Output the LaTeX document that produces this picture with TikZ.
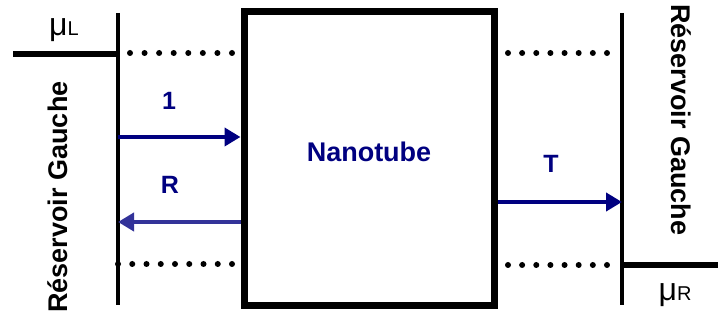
\documentclass[tikz,border=0pt]{standalone}
\usepackage{fontspec}
\setmainfont{Liberation Sans}
\usetikzlibrary{arrows.meta}
\definecolor{navy}{RGB}{0, 0, 128}
\definecolor{refl}{RGB}{51, 51, 153}

\begin{document}
\begin{tikzpicture}[
  x=1pt, y=-1pt,
  wall/.style={line width=3.2pt},
  level/.style={line width=5.5pt},
  dots/.style={line width=6pt, line cap=round, dash pattern=on 0pt off #1},
  flux/.style={line width=4.5pt, draw=navy, -{Triangle[length=16pt, width=18pt]}},
  lbl/.style={text=navy, font=\fontsize{25}{30}\selectfont\bfseries},
  side/.style={font=\fontsize{27}{32}\selectfont\bfseries, inner sep=0pt},
  mu/.style={font=\fontsize{32}{36}\selectfont, inner sep=0pt},
]
\useasboundingbox (0,0) rectangle (718,320);

% Nanotube (box)
\node[draw, line width=7pt, minimum width=250pt, minimum height=294pt,
      inner sep=0pt] (tube) at (369,159) {};
\node[text=navy, font=\fontsize{27}{32}\selectfont\bfseries] (name) at (369,152) {Nanotube};

% Reservoirs (walls and levels)
\coordinate (lt) at (118,13);
\coordinate (lb) at (118,305);
\coordinate (rt) at (622,13);
\coordinate (rb) at (622,305);
\draw[wall] (lt) -- (lb);
\draw[wall] (rt) -- (rb);
\coordinate (ll) at (13,54);
\coordinate (rr) at (718,265);
\draw[level] (ll) -- (ll -| lt);
\draw[level] (rr -| rt) -- (rr);

% Dotted lines
\draw[dots=14.57pt] (130,53) -- (232.5,53);
\draw[dots=14.25pt] (118,264) -- (232.5,264);
\draw[dots=14.14pt] (508,53) -- (607.5,53);
\draw[dots=14.14pt] (508,265) -- (607.5,265);

% Labels of the reservoirs
\node[side, rotate=90]  (resl) at (58,197) {Réservoir Gauche};
\node[side, rotate=-90] (resr) at (681,120) {Réservoir Gauche};
\node[mu] (mul) at (64,30) {μ{\fontsize{20}{22}\selectfont L}};
\node[mu] (mur) at (675,295) {μ{\fontsize{20}{22}\selectfont R}};

% Fluxes
\coordinate (in)  at (118,137);
\coordinate (out) at (118,222);
\coordinate (tr)  at (622,202);
\draw[flux] (in) -- (tube.west |- in);
\draw[flux, draw=refl] (tube.west |- out) -- (out);
\draw[flux] (tube.east |- tr) -- (tr);
\node[lbl] (one) at (169,101) {1};
\node[lbl] (r)   at (170,185) {R};
\node[lbl] (t)   at (551,164) {T};

\end{tikzpicture}
\end{document}
